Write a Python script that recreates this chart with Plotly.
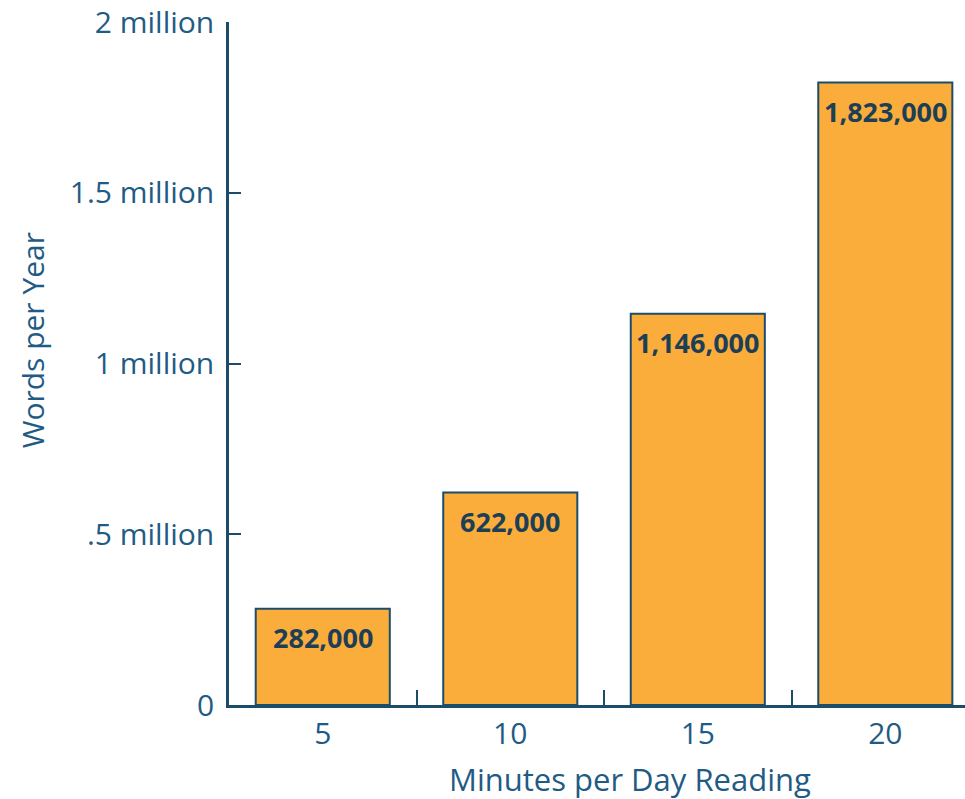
import plotly.graph_objects as go

categories = ["5", "10", "15", "20"]
words_per_year = [282000, 622000, 1146000, 1823000]
value_labels = ["282,000", "622,000", "1,146,000", "1,823,000"]
y_tick_values = [0, 500000, 1000000, 1500000, 2000000]
y_tick_labels = ["0", ".5 million", "1 million", "1.5 million", "2 million"]

AXIS = "#1b4d6a"
TXT = "#1f5b84"
LBL = "#1d3f56"
FILL = "#fbad3c"
FONT = "Open Sans"

fig = go.Figure()
fig.add_trace(go.Bar(
    x=categories, y=words_per_year, width=0.715,
    marker=dict(color=FILL, line=dict(color=AXIS, width=2)),
    hoverinfo="skip",
))

for i, (v, t) in enumerate(zip(words_per_year, value_labels)):
    fig.add_annotation(x=i, y=v, text=t, showarrow=False, yanchor="middle", yshift=-29,
                       font=dict(family=FONT, size=27, color=LBL, weight="bold"))

fig.add_annotation(xref="paper", yref="paper", x=0.545, y=0, yshift=-74, yanchor="middle",
                   text="Minutes per Day Reading", showarrow=False,
                   font=dict(family=FONT, size=31, color=TXT))
fig.add_annotation(xref="paper", yref="paper", x=0, xshift=-197, y=0.534, textangle=-90,
                   xanchor="center", yanchor="middle",
                   text="Words per Year", showarrow=False,
                   font=dict(family=FONT, size=30, color=TXT))

fig.update_layout(
    width=965, height=799,
    margin=dict(l=229, r=0, t=22, b=94),
    plot_bgcolor="white", paper_bgcolor="white",
    showlegend=False,
    xaxis=dict(type="category", range=[-0.5, 3.425], showgrid=False, zeroline=False,
               showline=True, linecolor=AXIS, linewidth=2.5,
               ticks="inside", tickson="boundaries", ticklen=15, tickwidth=2, tickcolor=AXIS,
               tickfont=dict(family=FONT, size=30, color=TXT), ticklabelstandoff=0),
    yaxis=dict(range=[0, 2000000], tickvals=y_tick_values, ticktext=y_tick_labels,
               showgrid=False, zeroline=False, showline=True, linecolor=AXIS, linewidth=2.5,
               ticks="inside", ticklen=12, tickwidth=2, tickcolor=AXIS,
               tickfont=dict(family=FONT, size=30, color=TXT), ticklabelstandoff=6),
)

fig.write_html("out.html", config={"displayModeBar": False},
               post_script="document.body.style.margin='0';")
